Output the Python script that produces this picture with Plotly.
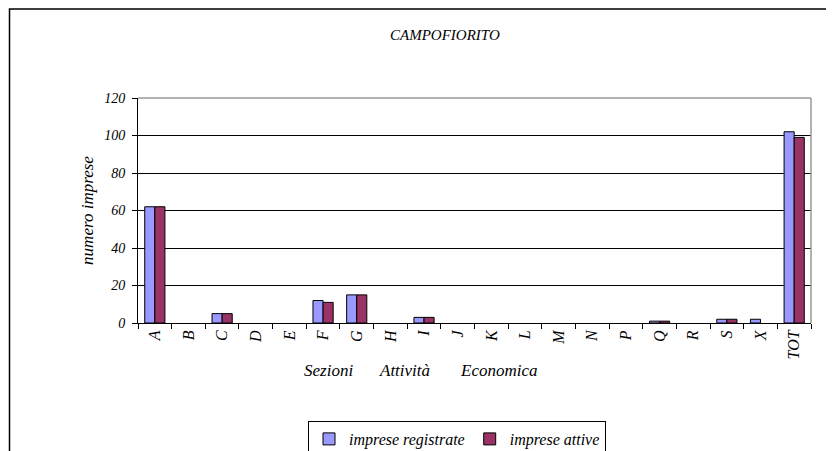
import plotly.graph_objects as go

sezioni = ['A', 'B', 'C', 'D', 'E', 'F', 'G', 'H', 'I', 'J', 'K', 'L', 'M', 'N', 'P', 'Q', 'R', 'S', 'X', 'TOT']
registrate = [62, 0, 5, 0, 0, 12, 15, 0, 3, 0, 0, 0, 0, 0, 0, 1, 0, 2, 2, 102]
attive = [62, 0, 5, 0, 0, 11, 15, 0, 3, 0, 0, 0, 0, 0, 0, 1, 0, 2, 0, 99]

SERIF = 'Liberation Serif'

# page body adds an 8px offset, so the figure is drawn 8px smaller
W, H = 826, 443
L, T, R, B = 130, 90, 803, 315   # plot area in figure pixels
PW, PH = R - L, B - T


def it(size):
    return dict(family=SERIF, size=size, color='black', style='italic')


def px(x):
    return (x - L) / PW


def py(y):
    return (B - y) / PH


fig = go.Figure()
fig.add_trace(go.Bar(x=sezioni, y=registrate, name='imprese registrate',
                     marker=dict(color='#9999FF',
                                 line=dict(color='black', width=[1 if v else 0 for v in registrate]))))
fig.add_trace(go.Bar(x=sezioni, y=attive, name='imprese attive',
                     marker=dict(color='#993366',
                                 line=dict(color='black', width=[1 if v else 0 for v in attive]))))

fig.update_layout(
    width=W, height=H,
    margin=dict(l=L, r=W - R, t=T, b=H - B, autoexpand=False),
    paper_bgcolor='white', plot_bgcolor='white',
    barmode='group', bargap=0.4, bargroupgap=0,
    font=it(14),
    showlegend=True,
    legend=dict(orientation='h', x=px(449), xanchor='center', y=py(413), yanchor='top',
                bordercolor='black', borderwidth=1, font=it(16), traceorder='normal',
                itemwidth=30),
    xaxis=dict(type='category', tickangle=-90, tickson='boundaries', ticks='outside', ticklen=5,
               tickcolor='black', showline=True, linecolor='black', linewidth=1, showgrid=False,
               tickfont=it(16), automargin=False),
    yaxis=dict(range=[0, 120], dtick=20, ticks='outside', ticklen=5, tickcolor='black',
               showline=True, linecolor='black', linewidth=1, gridcolor='black', gridwidth=1,
               tickfont=it(14), automargin=False, ticklabelstandoff=4,
               title=dict(text='numero imprese', font=it(17), standoff=6)),
)

# gray frame on top and right of plot area
fig.add_shape(type='line', xref='paper', yref='paper', x0=0, x1=1, y0=1, y1=1, line=dict(color='#999999', width=1.5))
fig.add_shape(type='line', xref='paper', yref='paper', x0=1, x1=1, y0=0, y1=1, line=dict(color='#999999', width=1.5))
# outer chart border
fig.add_shape(type='rect', xref='paper', yref='paper', x0=px(1.5), x1=px(900), y0=py(600), y1=py(1),
              line=dict(color='black', width=1.5), layer='below')

fig.add_annotation(text='CAMPOFIORITO', xref='paper', yref='paper', x=px(437), y=py(27), showarrow=False,
                   xanchor='center', yanchor='middle', font=it(15))
for txt, cx in [('Sezioni', 320), ('Attività', 396), ('Economica', 490)]:
    fig.add_annotation(text=txt, xref='paper', yref='paper', x=px(cx), y=py(362), showarrow=False,
                       xanchor='center', yanchor='middle', font=it(17))

fig.write_html("out.html")
